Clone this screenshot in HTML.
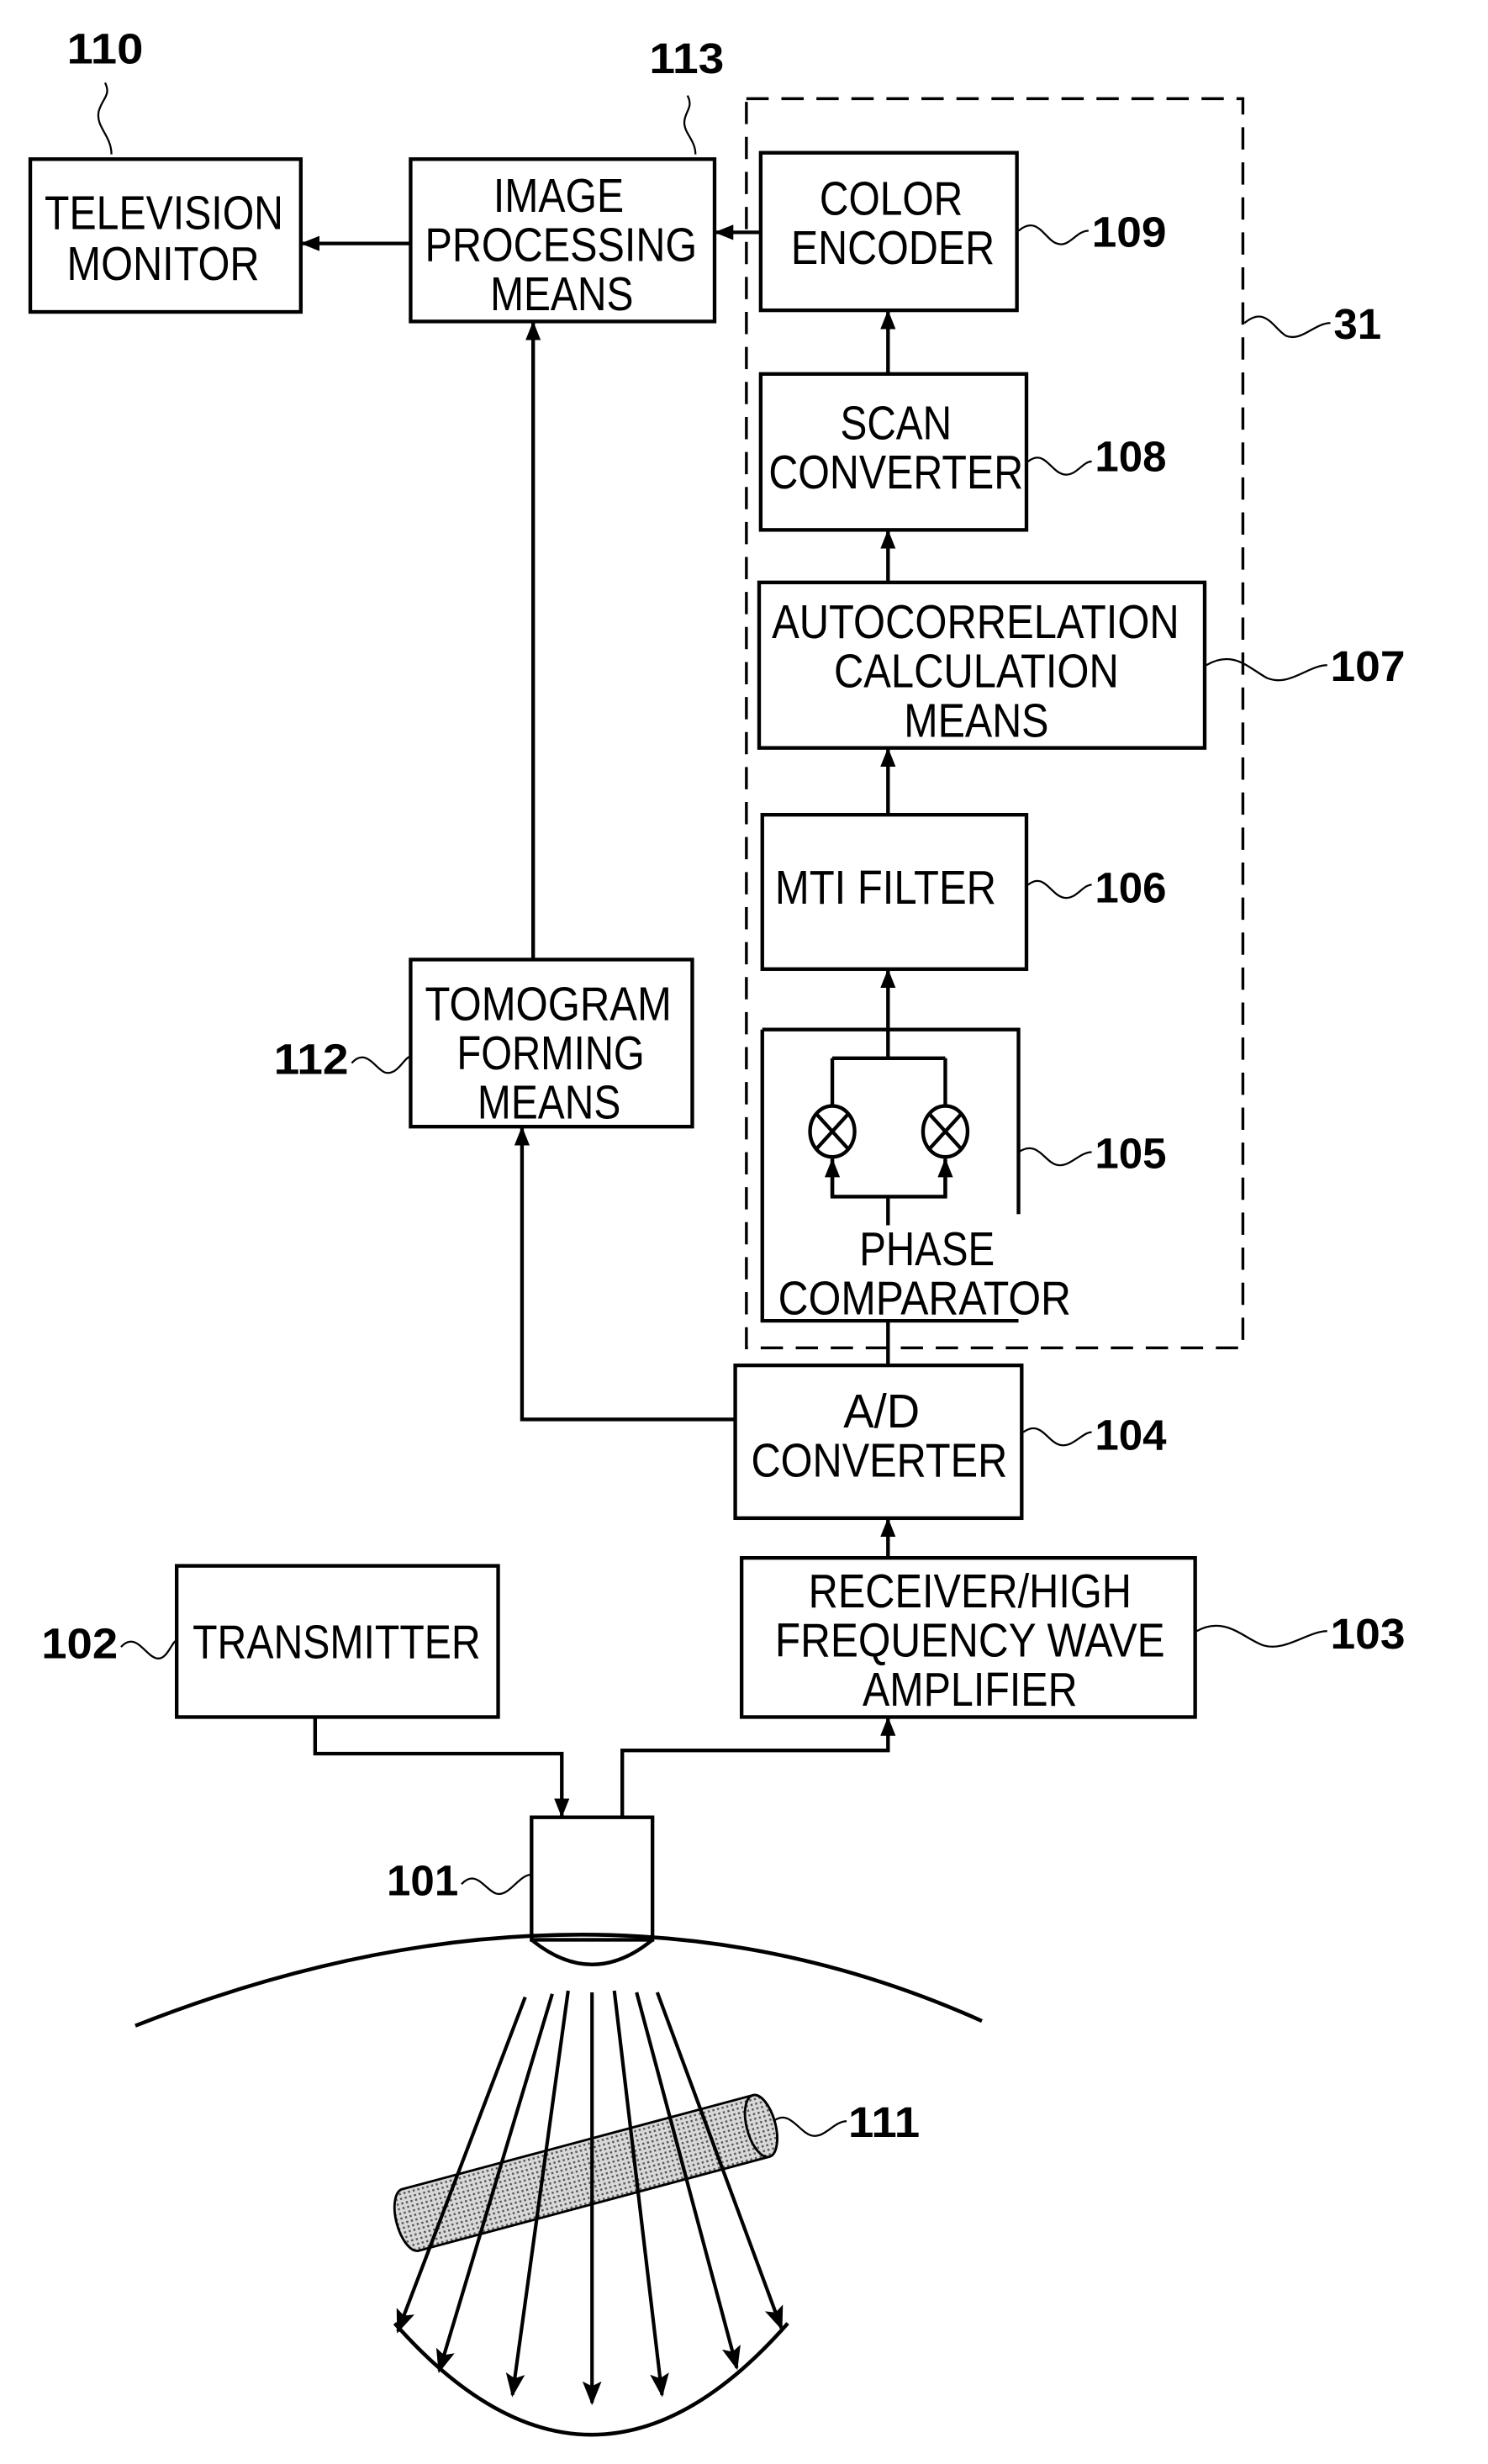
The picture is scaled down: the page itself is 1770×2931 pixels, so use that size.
<!DOCTYPE html>
<html><head><meta charset="utf-8"><style>
html,body{margin:0;padding:0;background:#fff;}
svg{display:block;}
text{font-family:"Liberation Sans",sans-serif;fill:#000;}
.t{font-size:30px;}
.n{font-size:27px;font-weight:bold;}
</style></head><body>
<svg width="1770" height="2931" viewBox="0 0 935 1548.4" xmlns="http://www.w3.org/2000/svg">
<defs>
<marker id="a" viewBox="0 0 10 10" refX="9" refY="5" markerWidth="12" markerHeight="12" orient="auto" markerUnits="userSpaceOnUse">
<path d="M0,1 L10,5 L0,9 z" fill="#000"/></marker>
<marker id="b" viewBox="0 0 10 10" refX="9" refY="5" markerWidth="15" markerHeight="15" orient="auto" markerUnits="userSpaceOnUse">
<path d="M0,1 L10,5 L0,9 L2,5 z" fill="#000"/></marker>
<pattern id="dots" width="3" height="3" patternUnits="userSpaceOnUse">
<rect width="3" height="3" fill="#d8d8d8"/><rect width="1.3" height="1.3" fill="#555"/></pattern>
</defs>
<g fill="none" stroke="#000" stroke-width="2.3">
<rect x="19" y="100" width="170" height="96"/>
<rect x="258" y="100" width="191" height="102"/>
<rect x="478" y="96" width="161" height="99"/>
<rect x="469" y="62" width="312" height="785" stroke-dasharray="14 8" stroke-width="1.8"/>
<rect x="478" y="235" width="167" height="98"/>
<rect x="477" y="366" width="280" height="104"/>
<rect x="479" y="512" width="166" height="97"/>
<path d="M479,647 H640 V763 M479,647 V830 H640"/>
<rect x="462" y="858" width="180" height="96"/>
<rect x="258" y="603" width="177" height="105"/>
<rect x="466" y="979" width="285" height="100"/>
<rect x="111" y="984" width="202" height="95"/>
<rect x="334" y="1142" width="76" height="77"/>
<path d="M334,1219 Q372,1250 410,1219"/>
<path d="M258,153 H190" marker-end="url(#a)"/>
<path d="M478,146 H450" marker-end="url(#a)"/>
<path d="M558,235 V196" marker-end="url(#a)"/>
<path d="M558,366 V334" marker-end="url(#a)"/>
<path d="M558,512 V471" marker-end="url(#a)"/>
<path d="M558,665 V610" marker-end="url(#a)"/>
<path d="M523,665 H594 M523,665 V696 M594,665 V696"/>
<path d="M558,752 H523 V728 M558,752 H594 V728 M558,752 V770 M558,830 V858"/>
<path d="M523,752 V729" marker-end="url(#a)"/>
<path d="M594,752 V729" marker-end="url(#a)"/>
<path d="M462,892 H328 V709" marker-end="url(#a)"/>
<path d="M335,603 V203" marker-end="url(#a)"/>
<path d="M558,979 V955" marker-end="url(#a)"/>
<path d="M198,1079 V1102 H353 V1141" marker-end="url(#a)"/>
<path d="M391,1142 V1100 H558 V1080" marker-end="url(#a)"/>
<ellipse cx="523" cy="711" rx="14" ry="16"/>
<ellipse cx="594" cy="711" rx="14" ry="16"/>
<path d="M513,700 L533,722 M533,700 L513,722 M584,700 L604,722 M604,700 L584,722"/>
<path d="M85,1273 Q372,1160 617,1270" stroke-width="2.4"/>
<path d="M248,1460 Q372,1600 495,1460" stroke-width="2.4"/>
<g transform="translate(258,1395) rotate(-15)">
<path d="M0,-20 H228 A9,20 0 0 1 228,20 H0 A9,20 0 0 1 0,-20 z" fill="url(#dots)" stroke-width="1.5"/>
<ellipse cx="228" cy="0" rx="9" ry="20" fill="url(#dots)" stroke-width="1.5"/>
</g>
<g stroke-width="2.2">
<path d="M330,1255 L250,1465" marker-end="url(#b)"/>
<path d="M347,1253 L276,1490" marker-end="url(#b)"/>
<path d="M357,1251 L322,1505" marker-end="url(#b)"/>
<path d="M372,1252 L372,1510" marker-end="url(#b)"/>
<path d="M386,1251 L416,1505" marker-end="url(#b)"/>
<path d="M400,1252 L463,1488" marker-end="url(#b)"/>
<path d="M413,1252 L491,1463" marker-end="url(#b)"/>
</g>
<g stroke-width="1.2">
<path d="M70,97 C70,85 60,80 62,70 C64,62 70,60 66,52"/>
<path d="M437,97 C437,88 430,84 430,77 C430,70 436,68 432,60"/>
<path d="M640,145 C652,135 656,150 664,153 C672,156 676,145 684,145"/>
<path d="M782,203 C795,192 800,206 808,211 C818,215 826,203 836,203"/>
<path d="M646,290 C656,282 660,296 668,298 C676,300 680,290 686,290"/>
<path d="M758,418 C775,408 785,420 796,426 C810,432 822,418 834,418"/>
<path d="M646,556 C656,548 660,562 668,564 C676,566 680,556 686,556"/>
<path d="M640,724 C652,716 656,730 664,732 C672,734 678,724 686,724"/>
<path d="M643,900 C654,892 658,906 666,908 C674,910 680,900 686,900"/>
<path d="M752,1025 C770,1015 782,1030 794,1034 C808,1038 822,1025 834,1025"/>
<path d="M221,668 C230,658 236,672 242,674 C250,676 254,664 258,664"/>
<path d="M76,1035 C85,1025 91,1040 98,1042 C105,1044 108,1031 111,1031"/>
<path d="M290,1184 C299,1174 305,1188 312,1190 C320,1192 326,1178 334,1178"/>
<path d="M486,1333 C496,1325 502,1340 510,1342 C518,1344 524,1333 532,1333"/>
</g>
</g>
<g class="t">
<text x="28" y="144" textLength="150" lengthAdjust="spacingAndGlyphs">TELEVISION</text>
<text x="42" y="176" textLength="121" lengthAdjust="spacingAndGlyphs">MONITOR</text>
<text x="310" y="133" textLength="82" lengthAdjust="spacingAndGlyphs">IMAGE</text>
<text x="267" y="164" textLength="171" lengthAdjust="spacingAndGlyphs">PROCESSING</text>
<text x="308" y="195" textLength="90" lengthAdjust="spacingAndGlyphs">MEANS</text>
<text x="515" y="135" textLength="90" lengthAdjust="spacingAndGlyphs">COLOR</text>
<text x="497" y="166" textLength="128" lengthAdjust="spacingAndGlyphs">ENCODER</text>
<text x="528" y="276" textLength="70" lengthAdjust="spacingAndGlyphs">SCAN</text>
<text x="483" y="307" textLength="160" lengthAdjust="spacingAndGlyphs">CONVERTER</text>
<text x="485" y="401" textLength="256" lengthAdjust="spacingAndGlyphs">AUTOCORRELATION</text>
<text x="524" y="432" textLength="179" lengthAdjust="spacingAndGlyphs">CALCULATION</text>
<text x="568" y="463" textLength="91" lengthAdjust="spacingAndGlyphs">MEANS</text>
<text x="487" y="568" textLength="139" lengthAdjust="spacingAndGlyphs">MTI FILTER</text>
<text x="540" y="795" textLength="85" lengthAdjust="spacingAndGlyphs">PHASE</text>
<text x="489" y="826" textLength="184" lengthAdjust="spacingAndGlyphs">COMPARATOR</text>
<text x="530" y="897" textLength="48" lengthAdjust="spacingAndGlyphs">A/D</text>
<text x="472" y="928" textLength="161" lengthAdjust="spacingAndGlyphs">CONVERTER</text>
<text x="267" y="641" textLength="155" lengthAdjust="spacingAndGlyphs">TOMOGRAM</text>
<text x="287" y="672" textLength="118" lengthAdjust="spacingAndGlyphs">FORMING</text>
<text x="300" y="703" textLength="90" lengthAdjust="spacingAndGlyphs">MEANS</text>
<text x="508" y="1010" textLength="203" lengthAdjust="spacingAndGlyphs">RECEIVER/HIGH</text>
<text x="487" y="1041" textLength="245" lengthAdjust="spacingAndGlyphs">FREQUENCY WAVE</text>
<text x="542" y="1072" textLength="135" lengthAdjust="spacingAndGlyphs">AMPLIFIER</text>
<text x="121" y="1042" textLength="181" lengthAdjust="spacingAndGlyphs">TRANSMITTER</text>
</g>
<g class="n">
<text x="42" y="40" textLength="48" lengthAdjust="spacingAndGlyphs">110</text>
<text x="408" y="46" textLength="47" lengthAdjust="spacingAndGlyphs">113</text>
<text x="686" y="155" textLength="47" lengthAdjust="spacingAndGlyphs">109</text>
<text x="838" y="213" textLength="30" lengthAdjust="spacingAndGlyphs">31</text>
<text x="688" y="296" textLength="45" lengthAdjust="spacingAndGlyphs">108</text>
<text x="836" y="428" textLength="47" lengthAdjust="spacingAndGlyphs">107</text>
<text x="688" y="567" textLength="45" lengthAdjust="spacingAndGlyphs">106</text>
<text x="688" y="734" textLength="45" lengthAdjust="spacingAndGlyphs">105</text>
<text x="688" y="911" textLength="45" lengthAdjust="spacingAndGlyphs">104</text>
<text x="836" y="1036" textLength="47" lengthAdjust="spacingAndGlyphs">103</text>
<text x="172" y="675" textLength="47" lengthAdjust="spacingAndGlyphs">112</text>
<text x="26" y="1042" textLength="48" lengthAdjust="spacingAndGlyphs">102</text>
<text x="243" y="1191" textLength="45" lengthAdjust="spacingAndGlyphs">101</text>
<text x="533" y="1343" textLength="45" lengthAdjust="spacingAndGlyphs">111</text>
</g>
</svg>
</body></html>
